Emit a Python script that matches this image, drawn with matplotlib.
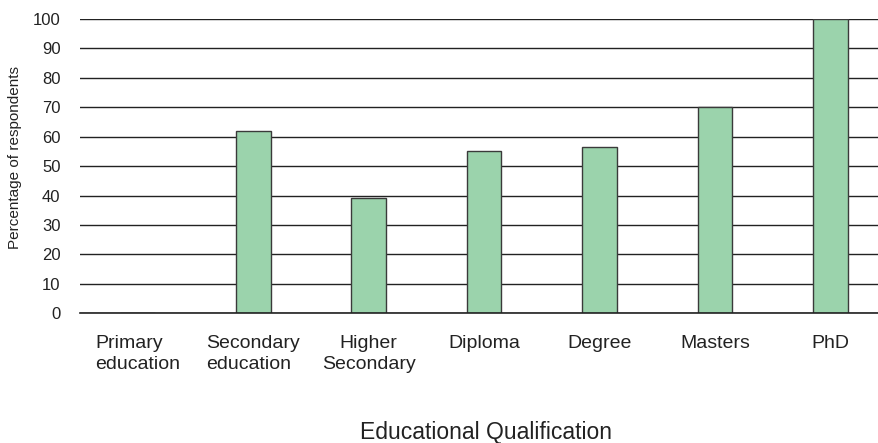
import matplotlib
matplotlib.use("Agg")
import numpy as np
import matplotlib.pyplot as plt

plt.rcParams['font.family'] = ['Liberation Sans', 'DejaVu Sans']

categories = ["Primary\neducation", "Secondary\neducation", "Higher\nSecondary",
              "Diploma", "Degree", "Masters", "PhD"]
percent = [0, 62, 39, 55, 56.6, 70, 100]
yticks = [0, 10, 20, 30, 40, 50, 60, 70, 80, 90, 100]

fig = plt.figure(figsize=(8.79, 4.43), dpi=100)
ax = fig.add_axes([0.091, 0.293, 0.909, 0.664])

x = np.arange(len(categories))
ax.bar(x, percent, width=0.3, color="#9BD3AC", edgecolor="#3a3a3a", linewidth=1.0, zorder=3)

ax.set_xlim(-0.5, 6.42)
ax.set_ylim(0, 100)
ax.set_yticks(yticks)
ax.set_yticklabels([str(t) for t in yticks], fontsize=12, color="#222222")
ax.yaxis.grid(True, color="#222222", linewidth=1.0, zorder=0)
ax.axhline(0, color="#222222", linewidth=1.2, zorder=4, clip_on=False)
ax.set_axisbelow(True)
ax.tick_params(axis="y", length=0, pad=14)
ax.tick_params(axis="x", length=0, pad=16)

ax.set_xticks(x)
ax.set_xticklabels(categories, fontsize=14, color="#222222", linespacing=1.25)
for i, lab in enumerate(ax.get_xticklabels()):
    lab.set_multialignment("left" if i < 2 else "center")

for s in ax.spines.values():
    s.set_visible(False)

ax.set_ylabel("Percentage of respondents", fontsize=11, color="#222222")
ax.yaxis.set_label_coords(-0.073, 0.53)
fig.text(0.553, 0.008, "Educational Qualification", fontsize=16.5, color="#222222",
         ha="center", va="baseline")

fig.savefig("out.png", dpi=100)
